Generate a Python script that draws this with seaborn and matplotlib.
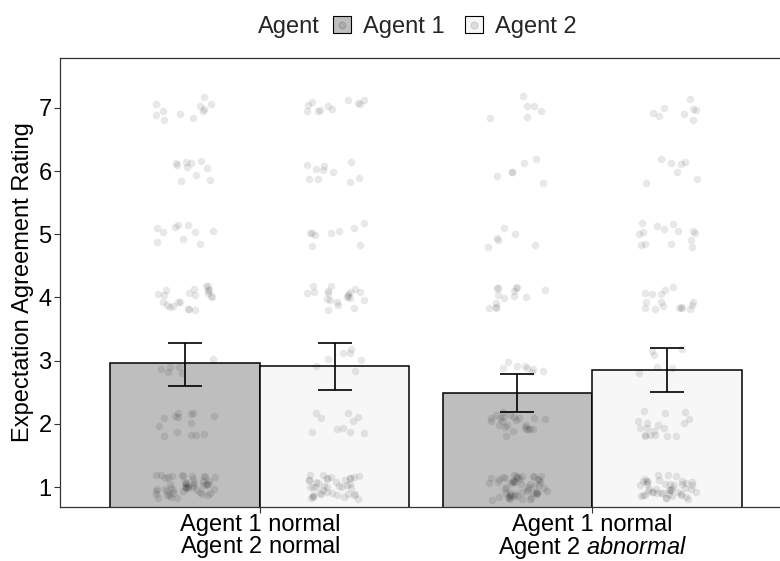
import numpy as np
import pandas as pd
import matplotlib
matplotlib.use("Agg")
import matplotlib.pyplot as plt
from matplotlib.patches import Patch
from matplotlib.lines import Line2D
import seaborn as sns

# ---- data -------------------------------------------------------------
conditions = ["Agent 1 normal\nAgent 2 $\\mathrm{normal}$",
              "Agent 1 normal\nAgent 2 $\\it{abnormal}$"]
agents = ["Agent 1", "Agent 2"]

# mean expectation-agreement rating per condition (rows) and agent (cols)
mean_rating = [[2.96, 2.91],
               [2.49, 2.85]]
ci_low = [[2.60, 2.53],
          [2.19, 2.50]]
ci_high = [[3.28, 3.28],
           [2.79, 3.20]]

# number of responses at each rating level 1..7
rating_levels = [1, 2, 3, 4, 5, 6, 7]
counts_c1_a1 = [50, 14, 6, 22, 10, 10, 11]
counts_c1_a2 = [40, 10, 7, 20, 9, 10, 11]
counts_c2_a1 = [55, 24, 8, 14, 6, 6, 6]
counts_c2_a2 = [45, 18, 6, 16, 14, 7, 8]
counts = [[counts_c1_a1, counts_c1_a2],
          [counts_c2_a1, counts_c2_a2]]

# ---- style ------------------------------------------------------------
sns.set_theme(style="white")
plt.rcParams["font.family"] = ["Liberation Sans", "DejaVu Sans"]
plt.rcParams["mathtext.fontset"] = "custom"
plt.rcParams["mathtext.rm"] = "Liberation Sans"
plt.rcParams["mathtext.it"] = "Liberation Sans:italic"

fills = {"Agent 1": "#bebebe", "Agent 2": "#f7f7f7"}
FS = 17.0

fig = plt.figure(figsize=(7.8, 5.61), dpi=100)
ax = fig.add_axes([60 / 780, 54 / 561, 732 / 780, 449 / 561])

# ---- bars -------------------------------------------------------------
bar_df = pd.DataFrame({
    "condition": [c for c in conditions for _ in agents],
    "agent": [a for _ in conditions for a in agents],
    "rating": [mean_rating[i][j] for i in range(2) for j in range(2)],
})
sns.barplot(data=bar_df, x="condition", y="rating", hue="agent",
            palette=fills, width=0.9, gap=0, errorbar=None,
            edgecolor="black", linewidth=1.1, legend=False, ax=ax, zorder=1)

# ---- jittered individual responses ------------------------------------
rng = np.random.default_rng(7)
offsets = [-0.225, 0.225]
xs, ys = [], []
for i in range(2):
    for j in range(2):
        vals = np.repeat(rating_levels, counts[i][j])
        xs.append(i + offsets[j] + rng.uniform(-0.09, 0.09, len(vals)))
        ys.append(vals + rng.uniform(-0.2, 0.2, len(vals)))
pts = pd.DataFrame({"x": np.concatenate(xs), "y": np.concatenate(ys)})
sns.scatterplot(data=pts, x="x", y="y", color="black", alpha=0.09, s=30,
                linewidth=0, ax=ax, zorder=3)

# ---- error bars -------------------------------------------------------
for i in range(2):
    for j in range(2):
        m = mean_rating[i][j]
        ax.errorbar(i + offsets[j], m,
                    yerr=[[m - ci_low[i][j]], [ci_high[i][j] - m]],
                    fmt="none", ecolor="black", elinewidth=1.2,
                    capsize=12, capthick=1.2, zorder=4)

# ---- axes -------------------------------------------------------------
ax.set_xlim(-0.602, 1.602)
ax.set_ylim(0.684, 7.79)
ax.set_yticks(rating_levels)
ax.set_xticks([0, 1])
ax.set_xticklabels(conditions, fontsize=FS, color="black", linespacing=0.9)
ax.tick_params(axis="y", labelsize=FS, labelcolor="black", length=4,
               width=0.8, color="#333333", left=True, pad=2)
ax.tick_params(axis="x", length=4, width=0.8, color="#333333", bottom=True,
               pad=1)
ax.set_xlabel("")
ax.set_ylabel("Expectation Agreement Rating", fontsize=FS, color="black",
              labelpad=3)
for s in ax.spines.values():
    s.set_visible(True)
    s.set_color("#333333")
    s.set_linewidth(0.9)
ax.grid(False)

# ---- legend -----------------------------------------------------------
leg_y = 1 - 27 / 561
fig.text(258 / 780, leg_y, "Agent", fontsize=FS, ha="left", va="center")
handles = [(Patch(facecolor=fills[a], edgecolor="black", linewidth=0.8),
            Line2D([], [], marker="o", color="black", alpha=0.1,
                   linestyle="", markersize=5))
           for a in agents]
fig.legend(handles, agents, loc="center left",
           bbox_to_anchor=(333 / 780, leg_y), ncol=2, frameon=False,
           fontsize=FS, handlelength=0.75, handleheight=0.75,
           handletextpad=0.5, columnspacing=0.9, borderpad=0,
           borderaxespad=0)

fig.savefig("out.png", dpi=100)
